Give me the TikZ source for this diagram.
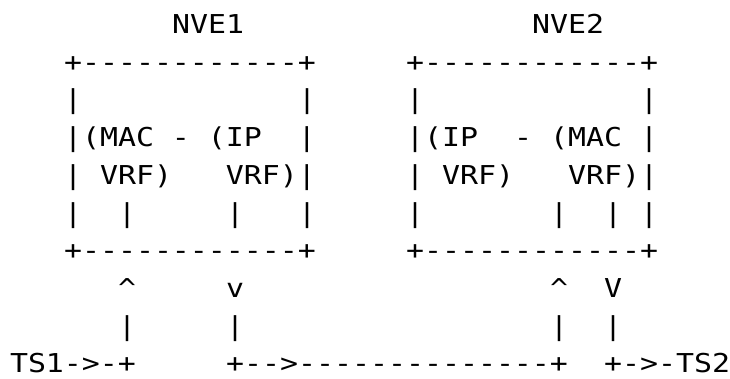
\documentclass[tikz,border=0pt]{standalone}
\usepackage{fontspec}
\newfontfamily\asciifont[FakeStretch=1.15,Ligatures=TeXOff]{DejaVu Sans Mono}
\newcommand{\charw}{18pt}
\newcommand{\lineh}{37.7pt}
\begin{document}
\begin{tikzpicture}[x=1pt,y=1pt]
  \tikzset{ascii/.style={inner sep=0pt, outer sep=0pt, anchor=base west, font=\asciifont\fontsize{26pt}{30pt}\selectfont}}
  \useasboundingbox (0,0) rectangle (730,-378);
  % row 0: titles
  \node[ascii] (nveone) at ({10pt+9*\charw}, {-33.5pt-0*\lineh}) {NVE1};
  \node[ascii] (nvetwo) at ({10pt+29*\charw}, {-33.5pt-0*\lineh}) {NVE2};
  % boxes
  \node[ascii] (topone) at ({10pt+3*\charw}, {-33.5pt-1*\lineh}) {+------------+};
  \node[ascii] (toptwo) at ({10pt+22*\charw}, {-33.5pt-1*\lineh}) {+------------+};
  \node[ascii] (gapone) at ({10pt+3*\charw}, {-33.5pt-2*\lineh}) {|~~~~~~~~~~~~|};
  \node[ascii] (gaptwo) at ({10pt+22*\charw}, {-33.5pt-2*\lineh}) {|~~~~~~~~~~~~|};
  \node[ascii] (vrfone) at ({10pt+3*\charw}, {-33.5pt-3*\lineh}) {|(MAC~-~(IP~~|};
  \node[ascii] (vrftwo) at ({10pt+22*\charw}, {-33.5pt-3*\lineh}) {|(IP~~-~(MAC~|};
  \node[ascii] (kindone) at ({10pt+3*\charw}, {-33.5pt-4*\lineh}) {|~VRF)~~~VRF)|};
  \node[ascii] (kindtwo) at ({10pt+22*\charw}, {-33.5pt-4*\lineh}) {|~VRF)~~~VRF)|};
  \node[ascii] (portone) at ({10pt+3*\charw}, {-33.5pt-5*\lineh}) {|~~|~~~~~|~~~|};
  \node[ascii] (porttwo) at ({10pt+22*\charw}, {-33.5pt-5*\lineh}) {|~~~~~~~|~~|~|};
  \node[ascii] (botone) at ({10pt+3*\charw}, {-33.5pt-6*\lineh}) {+------------+};
  \node[ascii] (bottwo) at ({10pt+22*\charw}, {-33.5pt-6*\lineh}) {+------------+};
  % arrows between the boxes and the tenant systems
  \node[ascii] (tipone) at ({10pt+6*\charw}, {-33.5pt-7*\lineh}) {\textasciicircum~~~~~v};
  \node[ascii] (tiptwo) at ({10pt+30*\charw}, {-33.5pt-7*\lineh}) {\textasciicircum~~V};
  \node[ascii] (stemone) at ({10pt+6*\charw}, {-33.5pt-8*\lineh}) {|~~~~~|};
  \node[ascii] (stemtwo) at ({10pt+30*\charw}, {-33.5pt-8*\lineh}) {|~~|};
  \node[ascii] (tsone) at ({10pt+0*\charw}, {-33.5pt-9*\lineh}) {TS1->-+};
  \node[ascii] (transit) at ({10pt+12*\charw}, {-33.5pt-9*\lineh}) {+-->--------------+};
  \node[ascii] (tstwo) at ({10pt+33*\charw}, {-33.5pt-9*\lineh}) {+->-TS2};
\end{tikzpicture}
\end{document}
